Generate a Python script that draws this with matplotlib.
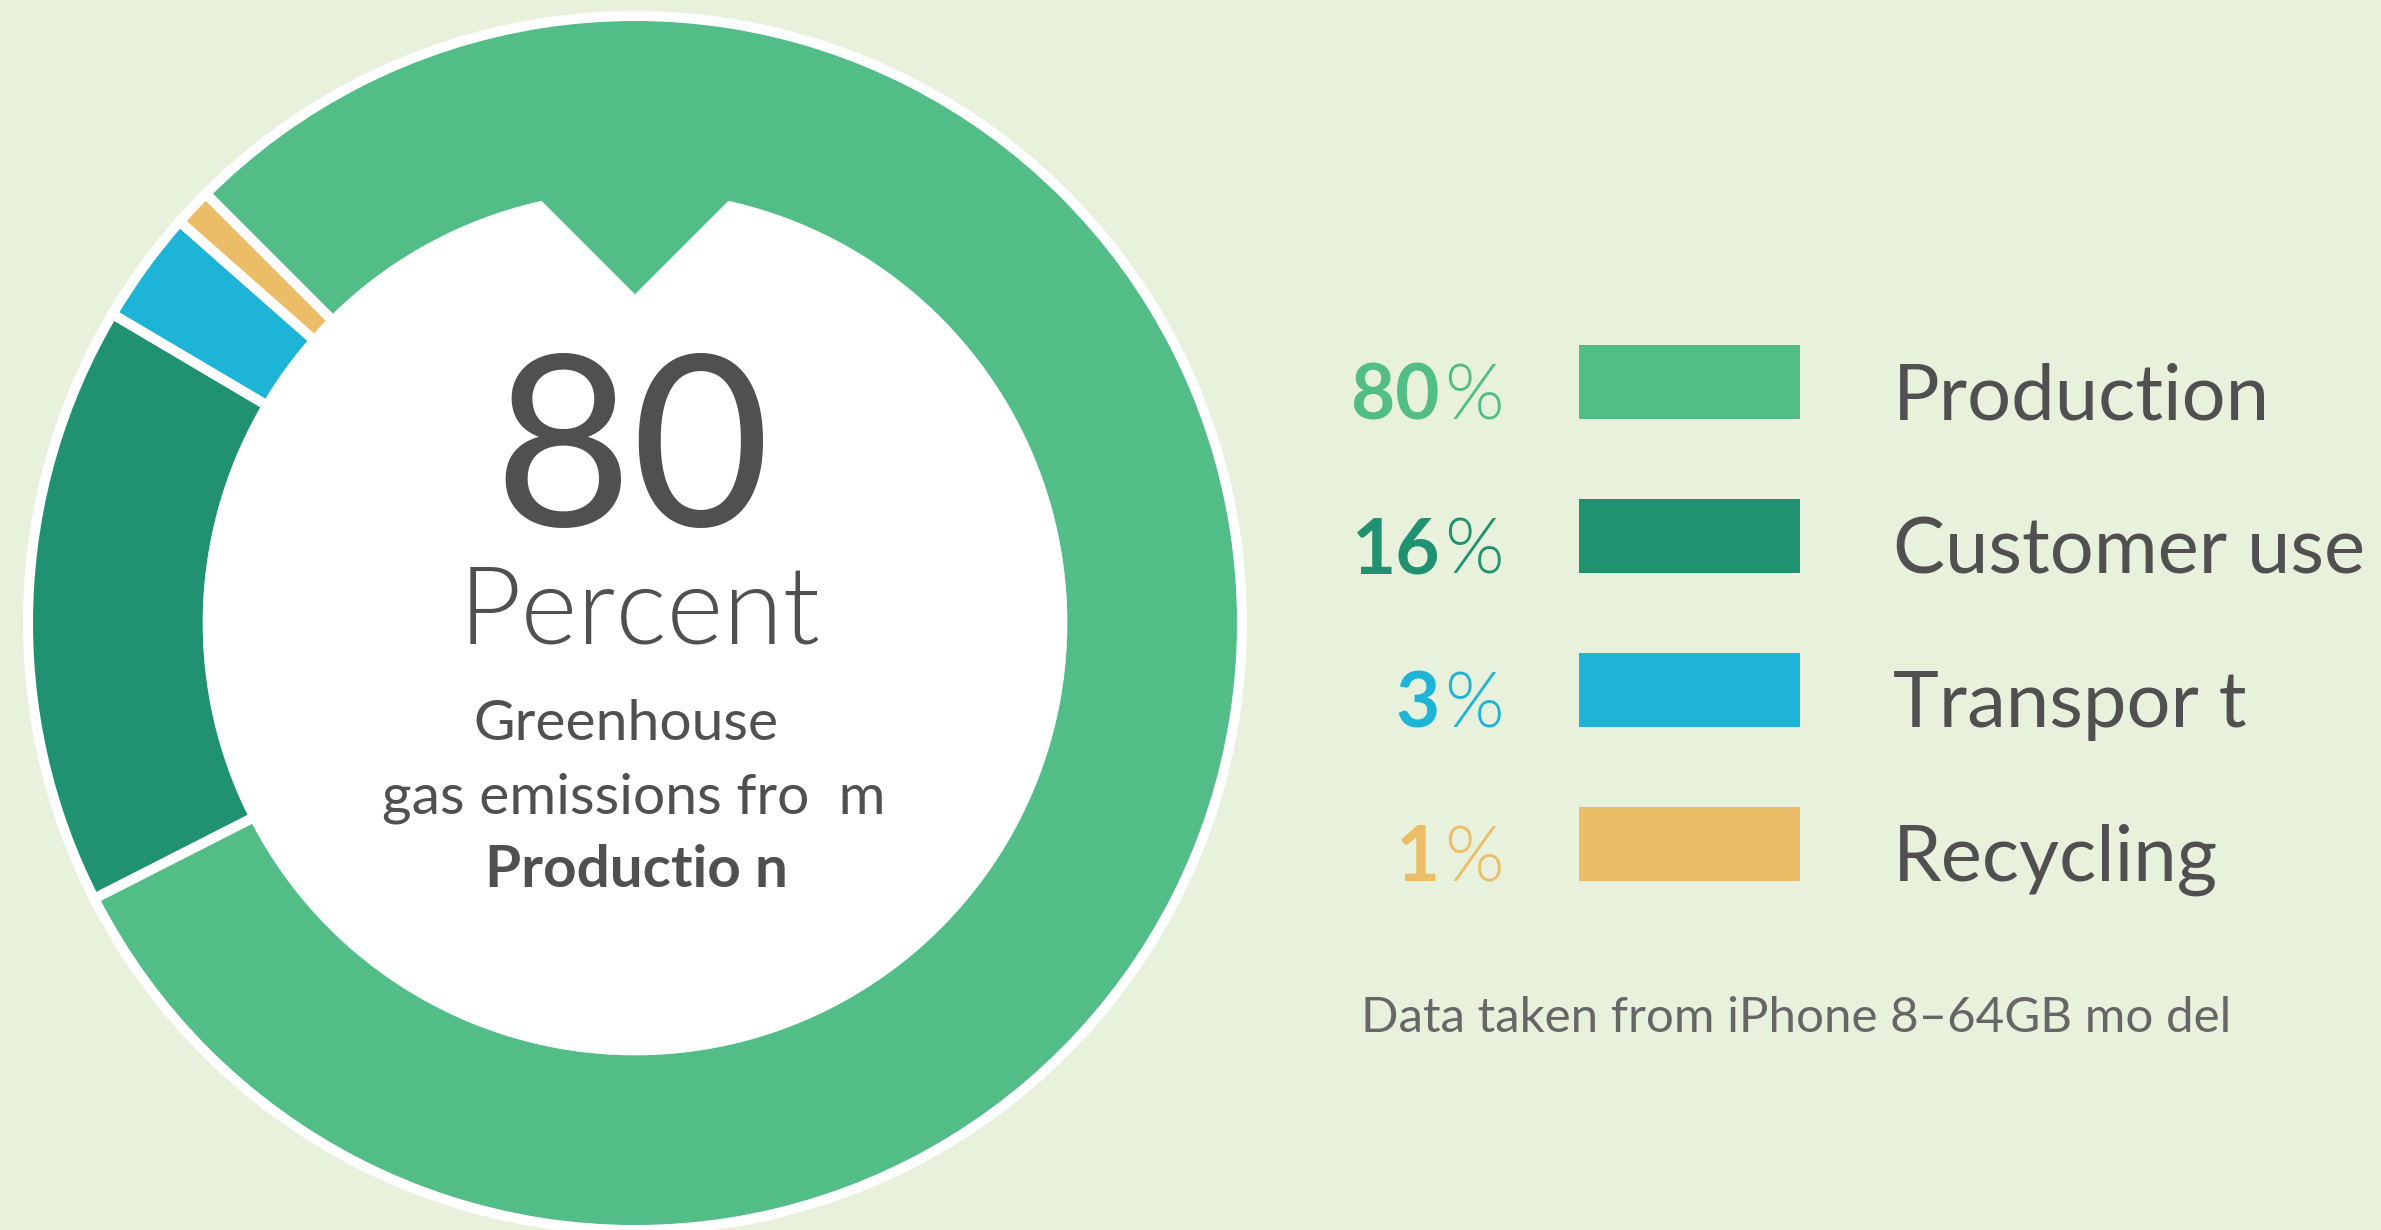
import numpy as np
import matplotlib
matplotlib.use("Agg")
import matplotlib.pyplot as plt
from matplotlib.patches import Polygon, Rectangle

# data
categories = ["Production", "Customer use", "Transport", "Recycling"]
label_texts = ["Production", "Customer use", "Transpor t", "Recycling"]
shares = [80, 16, 3, 1]
colors = ["#52bd87", "#209272", "#1db4d7", "#ebbd67"]

bg = "#e7f1dc"
dark = "#505050"
W, H = 2381, 1230

plt.rcParams["font.family"] = ["Lato", "DejaVu Sans"]

fig = plt.figure(figsize=(W / 100, H / 100), dpi=100, facecolor=bg)
ax = fig.add_axes([0, 0, 1, 1])
ax.set_facecolor(bg)

# donut (pixel coords, y up)
cx, cy = 635, H - 623
ax.pie(shares, colors=colors, startangle=135, counterclock=False,
       center=(cx, cy), radius=607,
       wedgeprops=dict(edgecolor="white", linewidth=7.2))

# white centre with the notch pointing at the top
r_in = 432
half = np.radians(12.5)
a = np.linspace(np.pi / 2 - half, -1.5 * np.pi + half, 400)
pts = np.column_stack([cx + r_in * np.cos(a), cy + r_in * np.sin(a)])
tip = [cx, cy + r_in * np.cos(half) - r_in * np.sin(half)]
pts = np.vstack([pts, tip])
ax.add_patch(Polygon(pts, closed=True, facecolor="white", edgecolor="white", linewidth=0.5, zorder=3))

# centre text
ax.text(cx - 3, H - 526, str(shares[0]), ha="center", va="baseline", fontsize=172,
        color=dark, zorder=4)
ax.text(cx + 5, H - 644, "Percent", ha="center", va="baseline", fontsize=78,
        fontweight=300, color=dark, zorder=4)
ax.text(cx - 9, H - 740, "Greenhouse", ha="center", va="baseline", fontsize=41,
        color=dark, zorder=4)
ax.text(cx - 1, H - 813, "gas emissions fro  m", ha="center", va="baseline", fontsize=41,
        color=dark, zorder=4)
ax.text(cx + 1, H - 887, "Productio n", ha="center", va="baseline", fontsize=42,
        fontweight="bold", color=dark, zorder=4)

# legend
row_top = [345, 499, 653, 807]
for i, cat in enumerate(categories):
    top = row_top[i]
    ax.add_patch(Rectangle((1579, H - top - 74), 221, 74, facecolor=colors[i], edgecolor="none"))
    base = H - top - 74
    ax.text(1440, base, str(shares[i]), ha="right", va="baseline", fontsize=55,
            fontweight="bold", color=colors[i])
    ax.text(1444, base, "%", ha="left", va="baseline", fontsize=55,
            fontweight=300, color=colors[i])
    ax.text(1893, base, label_texts[i], ha="left", va="baseline", fontsize=56,
            color=dark)

ax.text(1361, H - 1032, "Data taken from iPhone 8\u201364GB mo del", ha="left", va="baseline",
        fontsize=35.5, color="#666666")

ax.set_xlim(0, W)
ax.set_ylim(0, H)
ax.set_aspect("equal")
ax.axis("off")

fig.savefig("out.png", dpi=100, facecolor=bg)
